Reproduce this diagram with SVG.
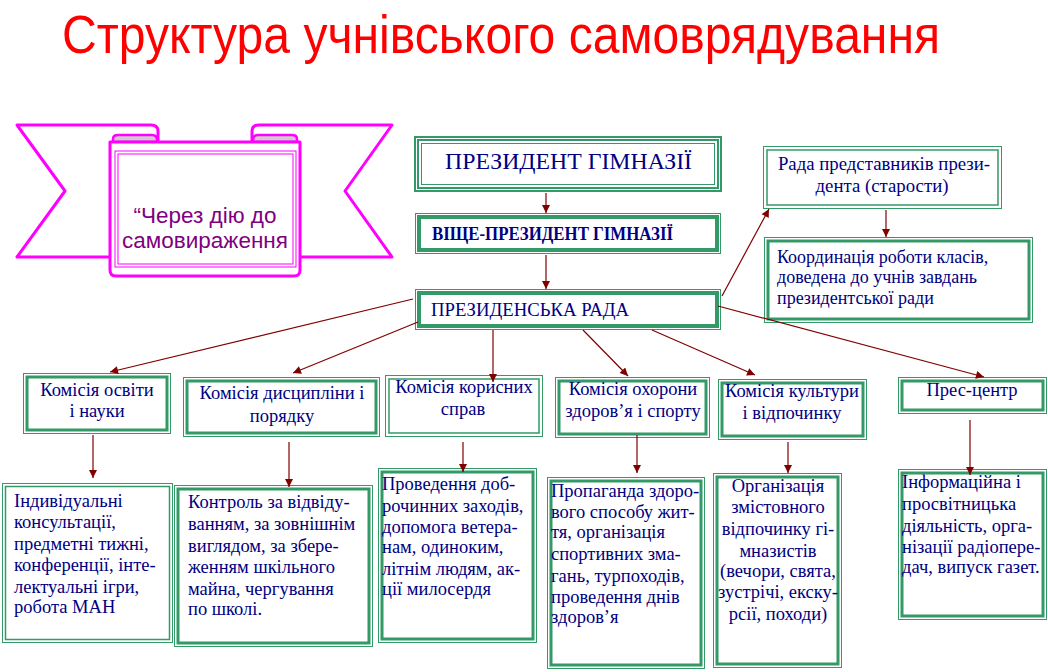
<svg xmlns="http://www.w3.org/2000/svg" width="1048" height="672" viewBox="0 0 1048 672">
<style>
.o{fill:#fff;stroke:#339966;stroke-width:1}
.t{fill:none;stroke:#339966;stroke-width:3}
.m{fill:none;stroke:#339966;stroke-width:1.5}
.tx{font-family:"Liberation Serif","Times New Roman",serif;fill:#000080}
.c{text-anchor:middle}
.cm{font-size:18.5px}
.dt{font-size:18.5px}
.rib{fill:#fff;stroke:#ff00ff;stroke-width:3;stroke-linejoin:round}
.ln{fill:none;stroke:#800000;stroke-width:1.2;marker-end:url(#ah)}
</style>
<defs>
<marker id="ah" viewBox="0 0 10 10" refX="10" refY="5" markerWidth="9" markerHeight="8" markerUnits="userSpaceOnUse" orient="auto">
<path d="M0,0 L10,5 L0,10 z" fill="#800000"/>
</marker>
</defs>
<rect width="1048" height="672" fill="#fff"/>
<text id="title" x="62" y="53" font-family="Liberation Sans, Arial, sans-serif" font-size="53" fill="#ff0000" textLength="878" lengthAdjust="spacingAndGlyphs">Структура учнівського самоврядування</text>

<g id="banner">
<path class="rib" d="M158,142 L158,131 Q158,125 151,125 L17,125 L65,191 L17,257 L112,257"/>
<path class="rib" d="M252,142 L252,131 Q252,125 259,125 L392,125 L345,191 L392,257 L298,257"/>
<path d="M113,142 L113,139 Q113,135 118,135 L152,135 Q157,135 157,140 L157,142 z" fill="#cccccc" stroke="#ff00ff" stroke-width="2.5"/>
<path d="M253,142 L253,140 Q253,135 258,135 L292,135 Q297,135 297,139 L297,142 z" fill="#cccccc" stroke="#ff00ff" stroke-width="2.5"/>
<path class="rib" d="M110,142 L300,142 L300,270 Q300,276 294,276 L116,276 Q110,276 110,270 z"/>
<rect x="115" y="151" width="181" height="116" fill="none" stroke="#ff00ff" stroke-width="1"/>
<rect x="118" y="154" width="175" height="110" fill="none" stroke="#ff00ff" stroke-width="1"/>
<text x="205" y="223" font-family="Liberation Sans, Arial, sans-serif" font-size="22.5" fill="#800080" text-anchor="middle">“Через дію до</text>
<text x="205" y="248" font-family="Liberation Sans, Arial, sans-serif" font-size="22.5" fill="#800080" text-anchor="middle">самовираження</text>
</g>

<g id="president">
<rect x="415" y="137" width="306" height="54" fill="#fff" stroke="#339966" stroke-width="2"/>
<rect x="418" y="140" width="300" height="48" fill="none" stroke="#339966" stroke-width="2"/>
<rect x="421.5" y="143.5" width="293" height="41" fill="none" stroke="#339966" stroke-width="1"/>
<text class="tx" x="445" y="169" font-size="23" textLength="247" lengthAdjust="spacingAndGlyphs">ПРЕЗИДЕНТ ГІМНАЗІЇ</text>
</g>

<g id="vice">
<rect class="o" x="415.5" y="213.5" width="305" height="40"/>
<rect x="419" y="217" width="298" height="33" fill="none" stroke="#339966" stroke-width="4"/>
<text class="tx" x="432" y="240" font-size="18" font-weight="bold" textLength="241" lengthAdjust="spacingAndGlyphs">ВІЩЕ-ПРЕЗИДЕНТ ГІМНАЗІЇ</text>
</g>

<g id="rada">
<rect class="o" x="415.5" y="289.5" width="305" height="40"/>
<rect x="419" y="293" width="298" height="33" fill="none" stroke="#339966" stroke-width="4"/>
<text class="tx" x="431" y="316" font-size="18" textLength="198" lengthAdjust="spacingAndGlyphs">ПРЕЗИДЕНСЬКА РАДА</text>
</g>

<g id="predstavnyky">
<rect class="o" x="763.5" y="146.5" width="238" height="62"/>
<rect class="m" x="767" y="150" width="231" height="55"/>
<text class="tx c" x="884" y="170" font-size="18.8">Рада представників прези-</text>
<text class="tx c" x="882" y="192" font-size="18.8">дента (старости)</text>
</g>

<g id="koordynatsiia">
<rect class="o" x="764.5" y="237.5" width="268" height="85"/>
<rect class="t" x="768" y="241" width="261" height="78"/>
<text class="tx" x="777" y="263" font-size="18">Координація роботи класів,</text>
<text class="tx" x="777" y="283" font-size="18">доведена до учнів завдань</text>
<text class="tx" x="777" y="304" font-size="18">президентської ради</text>
</g>

<g id="k-osvity">
<rect class="o" x="23.5" y="373.5" width="147" height="60"/>
<rect class="t" x="27" y="377" width="140" height="53"/>
<text class="tx c cm" x="97" y="396">Комісія освіти</text>
<text class="tx c cm" x="97" y="417">і науки</text>
</g>

<g id="k-dystsypliny">
<rect class="o" x="183.5" y="377.5" width="196" height="59"/>
<rect class="t" x="187" y="381" width="189" height="52"/>
<text class="tx c cm" x="282" y="399">Комісія дисципліни і</text>
<text class="tx c cm" x="282" y="422">порядку</text>
</g>

<g id="k-korysnykh">
<rect class="o" x="385.5" y="375.5" width="157" height="61"/>
<rect class="m" x="389" y="379" width="150" height="54"/>
<text class="tx c cm" x="464" y="393">Комісія корисних</text>
<text class="tx c cm" x="463" y="415">справ</text>
</g>

<g id="k-okhorony">
<rect class="o" x="555.5" y="377.5" width="154" height="60"/>
<rect class="t" x="559" y="381" width="147" height="53"/>
<text class="tx c cm" x="633" y="395">Комісія охорони</text>
<text class="tx c cm" x="633" y="417">здоров’я і спорту</text>
</g>

<g id="k-kultury">
<rect class="o" x="718.5" y="379.5" width="148" height="60"/>
<rect class="t" x="722" y="383" width="141" height="53"/>
<text class="tx c cm" x="792" y="397">Комісія культури</text>
<text class="tx c cm" x="792" y="419">і відпочинку</text>
</g>

<g id="pres-tsentr">
<rect class="o" x="898.5" y="377.5" width="148" height="36"/>
<rect class="t" x="902" y="381" width="141" height="29"/>
<text class="tx c cm" x="972" y="396">Прес-центр</text>
</g>

<g id="d-osvity">
<rect class="o" x="2.5" y="483.5" width="170" height="159"/>
<rect class="m" x="5.5" y="486.5" width="164" height="153"/>
<text class="tx dt"><tspan x="14" y="507">Індивідуальні</tspan><tspan x="14" y="528">консультації,</tspan><tspan x="14" y="550">предметні тижні,</tspan><tspan x="14" y="571">конференції, інте-</tspan><tspan x="14" y="593">лектуальні ігри,</tspan><tspan x="14" y="613">робота МАН</tspan></text>
</g>

<g id="d-dystsypliny">
<rect class="o" x="174.5" y="485.5" width="198" height="161"/>
<rect class="t" x="178" y="489" width="191" height="154"/>
<text class="tx dt"><tspan x="188" y="508">Контроль за відвіду-</tspan><tspan x="188" y="530">ванням, за зовнішнім</tspan><tspan x="188" y="552">виглядом, за збере-</tspan><tspan x="188" y="573">женням шкільного</tspan><tspan x="188" y="595">майна, чергування</tspan><tspan x="188" y="615">по школі.</tspan></text>
</g>

<g id="d-korysnykh">
<rect class="o" x="378.5" y="468.5" width="158" height="174"/>
<rect class="t" x="382" y="472" width="151" height="167"/>
<text class="tx dt"><tspan x="382" y="490">Проведення доб-</tspan><tspan x="382" y="512">рочинних заходів,</tspan><tspan x="382" y="533">допомога ветера-</tspan><tspan x="382" y="553">нам, одиноким,</tspan><tspan x="382" y="575">літнім людям, ак-</tspan><tspan x="382" y="595">ції  милосердя</tspan></text>
</g>

<g id="d-okhorony">
<rect class="o" x="547.5" y="477.5" width="157" height="191"/>
<rect class="t" x="551" y="481" width="150" height="184"/>
<text class="tx dt"><tspan x="551" y="497">Пропаганда здоро-</tspan><tspan x="551" y="518">вого способу жит-</tspan><tspan x="551" y="538">тя, організація</tspan><tspan x="551" y="560">спортивних зма-</tspan><tspan x="551" y="582">гань, турпоходів,</tspan><tspan x="551" y="603">проведення днів</tspan><tspan x="551" y="623">здоров’я</tspan></text>
</g>

<g id="d-kultury">
<rect class="o" x="713.5" y="473.5" width="128" height="194"/>
<rect class="t" x="717" y="477" width="121" height="187"/>
<text class="tx c dt"><tspan x="778" y="492">Організація</tspan><tspan x="778" y="513">змістовного</tspan><tspan x="778" y="535">відпочинку гі-</tspan><tspan x="778" y="557">мназистів</tspan><tspan x="778" y="577">(вечори, свята,</tspan><tspan x="778" y="598">зустрічі, екску-</tspan><tspan x="778" y="620">рсії, походи)</tspan></text>
</g>

<g id="d-pres">
<rect class="o" x="898.5" y="469.5" width="148" height="150"/>
<rect class="t" x="902" y="473" width="141" height="143"/>
<text class="tx dt"><tspan x="902" y="488">Інформаційна і</tspan><tspan x="902" y="510">просвітницька</tspan><tspan x="902" y="532">діяльність, орга-</tspan><tspan x="902" y="553">нізації радіопере-</tspan><tspan x="902" y="573">дач, випуск газет.</tspan></text>
</g>

<g id="connectors">
<line class="ln" x1="546" y1="193" x2="546" y2="213"/>
<line class="ln" x1="546" y1="255" x2="546" y2="289"/>
<line class="ln" x1="722" y1="296" x2="769" y2="209"/>
<line class="ln" x1="886" y1="210" x2="886" y2="237"/>
<line class="ln" x1="413" y1="299" x2="110" y2="372"/>
<line class="ln" x1="418" y1="322" x2="293" y2="373"/>
<line class="ln" x1="493" y1="330" x2="493" y2="382"/>
<line class="ln" x1="583" y1="330" x2="628" y2="376"/>
<line class="ln" x1="652" y1="330" x2="755" y2="375"/>
<line class="ln" x1="718" y1="306" x2="984" y2="377"/>
<line class="ln" x1="93" y1="435" x2="93" y2="478"/>
<line class="ln" x1="289" y1="442" x2="289" y2="487"/>
<line class="ln" x1="463" y1="442" x2="463" y2="472"/>
<line class="ln" x1="637" y1="435" x2="637" y2="473"/>
<line class="ln" x1="788" y1="442" x2="788" y2="473"/>
<line class="ln" x1="970" y1="420" x2="970" y2="475"/>
</g>
</svg>
